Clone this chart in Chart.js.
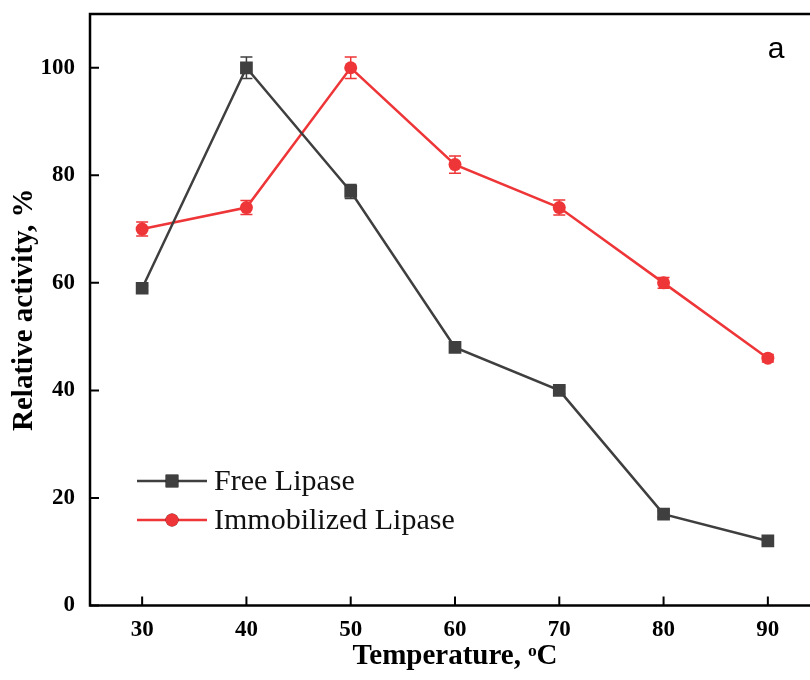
<!DOCTYPE html>
<html>
<head>
<meta charset="utf-8">
<script src="https://cdn.jsdelivr.net/npm/chart.js@4.4.0/dist/chart.umd.min.js"></script>
<style>
  html, body { margin: 0; padding: 0; background: #fff; overflow: hidden; }
  #wrap { position: absolute; left: 0; top: 0; width: 829px; height: 680px; }
</style>
</head>
<body>
<div id="wrap"><canvas id="chart" width="829" height="680"></canvas></div>
<script>
// temperatures (deg C)
var temperatures = [30, 40, 50, 60, 70, 80, 90];

// relative activity, %
var freeLipase = [59, 100, 77, 48, 40, 17, 12];
var freeLipaseErr = [0.5, 2, 1.3, 0.6, 0.6, 0.6, 0.6];
var immobilizedLipase = [70, 74, 100, 82, 74, 60, 46];
var immobilizedLipaseErr = [1.3, 1.3, 2, 1.6, 1.4, 1, 0.7];

var xTicks = [30, 40, 50, 60, 70, 80, 90];
var yTicks = [0, 20, 40, 60, 80, 100];

var seriesNames = ['Free Lipase', 'Immobilized Lipase'];

var GRAY = '#3f3f3f';
var RED = '#ee3537';

function toPoints(values) {
    return temperatures.map(function (t, i) {
        return { x: t, y: values[i] };
    });
}

// error bars, drawn under the markers
var errorBars = {
    id: 'errorBars',
    beforeDatasetsDraw: function (chart) {
        var ctx = chart.ctx;
        var xs = chart.scales.x, ys = chart.scales.y;
        chart.data.datasets.forEach(function (ds) {
            ctx.save();
            ctx.strokeStyle = ds.borderColor;
            ctx.lineWidth = 1.5;
            ds.data.forEach(function (p, i) {
                var e = ds.errors[i];
                var x = xs.getPixelForValue(p.x);
                var y1 = ys.getPixelForValue(p.y + e);
                var y2 = ys.getPixelForValue(p.y - e);
                ctx.beginPath();
                ctx.moveTo(x, y1); ctx.lineTo(x, y2);
                ctx.moveTo(x - 6, y1); ctx.lineTo(x + 6, y1);
                ctx.moveTo(x - 6, y2); ctx.lineTo(x + 6, y2);
                ctx.stroke();
            });
            ctx.restore();
        });
    }
};

// frame, inward ticks, legend inside plot and panel letter
var frame = {
    id: 'frame',
    afterDraw: function (chart) {
        var ctx = chart.ctx;
        var a = chart.chartArea;
        var xs = chart.scales.x, ys = chart.scales.y;
        ctx.save();
        ctx.strokeStyle = '#000';
        ctx.lineWidth = 2.5;
        ctx.strokeRect(a.left, a.top, a.right - a.left, a.bottom - a.top);
        ctx.lineWidth = 2;
        ctx.beginPath();
        xTicks.forEach(function (v) {
            var x = xs.getPixelForValue(v);
            ctx.moveTo(x, a.bottom); ctx.lineTo(x, a.bottom - 9);
        });
        yTicks.forEach(function (v) {
            var y = ys.getPixelForValue(v);
            ctx.moveTo(a.left, y); ctx.lineTo(a.left + 9, y);
        });
        ctx.stroke();

        // legend
        var rows = [481, 520];
        chart.data.datasets.forEach(function (ds, i) {
            var y = rows[i];
            ctx.strokeStyle = ds.borderColor;
            ctx.lineWidth = 2.5;
            ctx.beginPath();
            ctx.moveTo(137, y); ctx.lineTo(207, y);
            ctx.stroke();
            Chart.helpers.drawPoint(ctx, {
                pointStyle: ds.pointStyle,
                radius: ds.pointRadius,
                borderWidth: 0
            }, 172, y);
            ctx.fillStyle = ds.pointBackgroundColor;
            ctx.fill();
            ctx.fillStyle = '#111';
            ctx.font = '30px "Liberation Serif"';
            ctx.textBaseline = 'middle';
            ctx.textAlign = 'left';
            ctx.fillText(ds.label, 214, y + 1);
        });

        ctx.fillStyle = '#000';
        ctx.font = '30px "Liberation Sans"';
        ctx.textAlign = 'center';
        ctx.textBaseline = 'middle';
        ctx.fillText('a', 776, 50);
        ctx.restore();
    }
};

function noPad(s) {
    s.paddingTop = 0; s.paddingBottom = 0;
    s.paddingLeft = 0; s.paddingRight = 0;
}

var tickFont = { family: 'Liberation Serif', size: 23, weight: 'bold' };
var titleFont = { family: 'Liberation Serif', size: 29, weight: 'bold' };

new Chart(document.getElementById('chart'), {
    type: 'line',
    data: {
        datasets: [{
            label: seriesNames[0],
            data: toPoints(freeLipase),
            errors: freeLipaseErr,
            borderColor: GRAY,
            backgroundColor: GRAY,
            pointBackgroundColor: GRAY,
            pointBorderWidth: 0,
            pointStyle: 'rect',
            pointRadius: 9,
            borderWidth: 2.5,
            tension: 0
        }, {
            label: seriesNames[1],
            data: toPoints(immobilizedLipase),
            errors: immobilizedLipaseErr,
            borderColor: RED,
            backgroundColor: RED,
            pointBackgroundColor: RED,
            pointBorderWidth: 0,
            pointStyle: 'circle',
            pointRadius: 6.5,
            borderWidth: 2.5,
            tension: 0
        }]
    },
    options: {
        responsive: false,
        animation: false,
        layout: { padding: { left: 0, top: 14, right: 2, bottom: 0 } },
        plugins: {
            legend: { display: false },
            tooltip: { enabled: false }
        },
        scales: {
            x: {
                type: 'linear',
                min: 25,
                max: 95,
                afterBuildTicks: function (s) {
                    s.ticks = xTicks.map(function (v) { return { value: v }; });
                },
                afterFit: function (s) { s.height = 74.5; noPad(s); },
                grid: { display: false, drawTicks: false },
                border: { display: false },
                ticks: { color: '#000', font: tickFont, padding: 11, maxRotation: 0 },
                title: {
                    display: true,
                    text: 'Temperature, \u1D52C',
                    color: '#000',
                    font: titleFont,
                    padding: { top: 0, bottom: 6 }
                }
            },
            y: {
                min: 0,
                max: 110,
                afterBuildTicks: function (s) {
                    s.ticks = yTicks.map(function (v) { return { value: v }; });
                },
                afterFit: function (s) { s.width = 90; noPad(s); },
                grid: { display: false, drawTicks: false },
                border: { display: false },
                ticks: { color: '#000', font: tickFont, padding: 15 },
                title: {
                    display: true,
                    text: 'Relative activity, %',
                    color: '#000',
                    font: titleFont,
                    padding: { top: 7, bottom: 0 }
                }
            }
        }
    },
    plugins: [errorBars, frame]
});
</script>
</body>
</html>
